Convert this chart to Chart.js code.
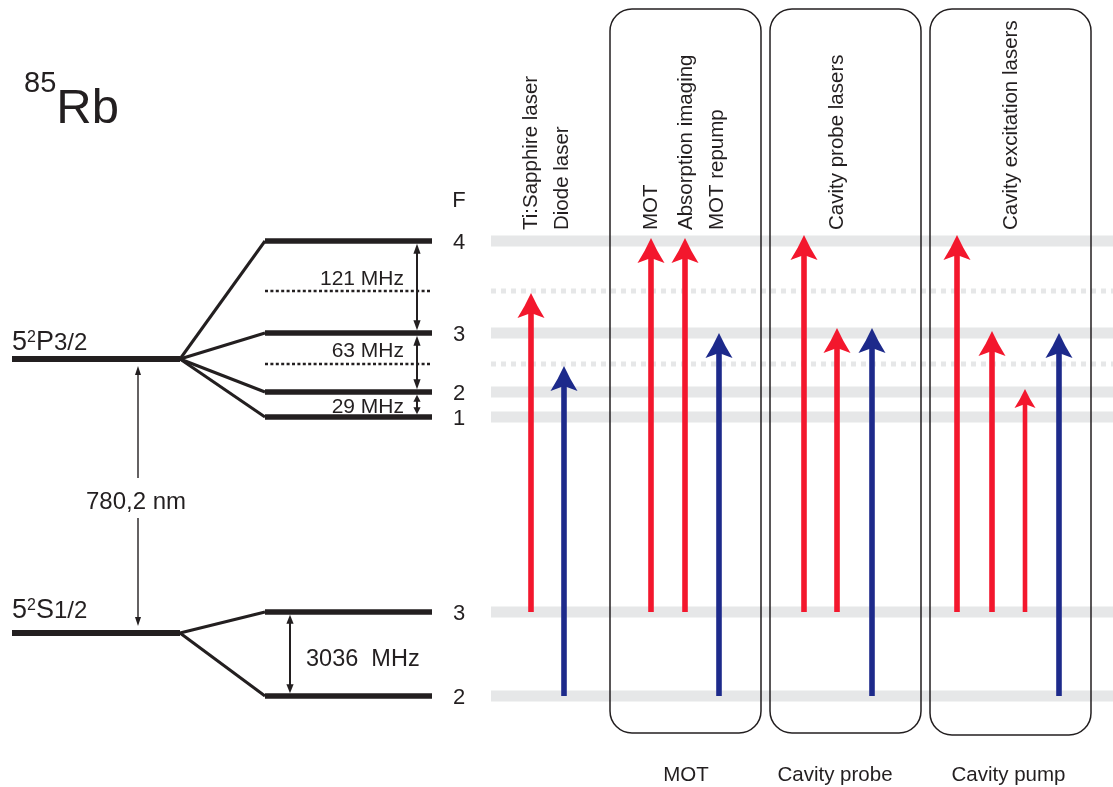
<!DOCTYPE html>
<html>
<head>
<meta charset="utf-8">
<script src="https://cdn.jsdelivr.net/npm/chart.js@4/dist/chart.umd.min.js"></script>
<style>
  html, body { margin: 0; padding: 0; background: #ffffff; }
  canvas { display: block; }
</style>
</head>
<body>
<canvas id="diagram" width="1113" height="787"></canvas>
<script>
// 85Rb D2 line: hyperfine levels and the lasers that address them.
// Vertical values are an energy-like diagram coordinate (0 = bottom, 787 = top),
// horizontal values run across the figure (0 .. 1113).

// ---- level data ----
const excitedFine = 428;                 // 5²P3/2
const groundFine = 154;                  // 5²S1/2
const excitedF = ['4', '3', '2', '1'];
const excitedLevels = [546, 454, 395, 370];
const crossoverLevels = [496, 423];      // dotted crossover positions
const groundF = ['3', '2'];
const groundLevels = [175, 91];
const excitedSplittings = ['121 MHz', '63 MHz', '29 MHz'];
const groundSplitting = '3036  MHz';
const transitionLabel = '780,2 nm';

// ---- laser data ----
const laserNames = ['Ti:Sapphire laser', 'Diode laser', 'MOT', 'Absorption imaging',
                    'MOT repump', 'Cavity probe lasers', 'Cavity excitation lasers'];
const laserNameX = [537, 568, 656.5, 692, 723, 843, 1016.5];
const arrowX    = [531, 564, 651, 685, 719, 804, 837, 872, 957, 992, 1025, 1059];
const arrowFrom = [175, 91, 175, 175, 91, 175, 175, 91, 175, 175, 175, 91];
const arrowTo   = [494, 421, 549, 549, 454, 552, 459, 459, 552, 456, 398, 454];
const arrowKind = ['red', 'blue', 'red', 'red', 'blue', 'red', 'red', 'blue', 'red', 'red', 'red', 'blue'];

// ---- groups ----
const groupNames = ['MOT', 'Cavity probe', 'Cavity pump'];
const groupLeft  = [610, 770, 930];
const groupRight = [761, 921, 1091];
const groupNameX = [686, 835, 1008.5];

// ---- layout ----
const INK = '#231f20';
const BAND = '#e6e7e8';
const COLORS = { red: '#f3172d', blue: '#1d2a8b' };
const FONT = '"Liberation Sans", Arial, Helvetica, sans-serif';
const fineX = [12, 180];
const hyperfineX = [265, 432];
const bandX = [491, 1113];
const fLabelX = 459;

function seg(x1, y1, x2, y2, opts) {
  return Object.assign({
    data: [{ x: x1, y: y1 }, { x: x2, y: y2 }],
    showLine: true, pointRadius: 0, pointHoverRadius: 0,
    borderCapStyle: 'butt', clip: false, fill: false, tension: 0
  }, opts);
}

const datasets = [];
// grey bands across the laser panel
excitedLevels.concat(groundLevels).forEach(v => {
  datasets.push(seg(bandX[0], v, bandX[1], v, { borderColor: BAND, borderWidth: 11, order: 5 }));
});
crossoverLevels.forEach(v => {
  datasets.push(seg(bandX[0], v, bandX[1], v, { borderColor: BAND, borderWidth: 5, borderDash: [5, 5], order: 5 }));
});
// fine-structure levels
[excitedFine, groundFine].forEach(v => {
  datasets.push(seg(fineX[0], v, fineX[1], v, { borderColor: INK, borderWidth: 6, order: 2 }));
});
// hyperfine levels
excitedLevels.concat(groundLevels).forEach(v => {
  datasets.push(seg(hyperfineX[0], v, hyperfineX[1], v, { borderColor: INK, borderWidth: 5.5, order: 2 }));
});
crossoverLevels.forEach(v => {
  datasets.push(seg(hyperfineX[0], v, hyperfineX[1], v, { borderColor: INK, borderWidth: 2.6, borderDash: [3, 2.4], order: 2 }));
});
// splitting fans
excitedLevels.forEach(v => {
  datasets.push(seg(fineX[1], excitedFine, hyperfineX[0], v, { borderColor: INK, borderWidth: 3, order: 3 }));
});
groundLevels.forEach(v => {
  datasets.push(seg(fineX[1], groundFine, hyperfineX[0], v, { borderColor: INK, borderWidth: 3, order: 3 }));
});

function doubleArrow(ctx, x, yTop, yBot, lw, hl, hw) {
  ctx.save();
  ctx.strokeStyle = INK; ctx.fillStyle = INK; ctx.lineWidth = lw; ctx.lineCap = 'butt';
  ctx.beginPath(); ctx.moveTo(x, yTop + hl - 1); ctx.lineTo(x, yBot - hl + 1); ctx.stroke();
  ctx.beginPath(); ctx.moveTo(x, yTop); ctx.lineTo(x + hw, yTop + hl); ctx.lineTo(x - hw, yTop + hl); ctx.closePath(); ctx.fill();
  ctx.beginPath(); ctx.moveTo(x, yBot); ctx.lineTo(x + hw, yBot - hl); ctx.lineTo(x - hw, yBot - hl); ctx.closePath(); ctx.fill();
  ctx.restore();
}

function laserArrow(ctx, x, yBase, yTip, color, sw, hl, hw, notch) {
  ctx.save();
  ctx.strokeStyle = color; ctx.fillStyle = color; ctx.lineWidth = sw; ctx.lineCap = 'butt';
  ctx.beginPath(); ctx.moveTo(x, yBase); ctx.lineTo(x, yTip + hl - notch - 1); ctx.stroke();
  ctx.beginPath();
  ctx.moveTo(x, yTip);
  ctx.quadraticCurveTo(x + hw * 0.42, yTip + hl * 0.5, x + hw, yTip + hl);
  ctx.lineTo(x, yTip + hl - notch);
  ctx.lineTo(x - hw, yTip + hl);
  ctx.quadraticCurveTo(x - hw * 0.42, yTip + hl * 0.5, x, yTip);
  ctx.closePath(); ctx.fill();
  ctx.restore();
}

function roundBox(ctx, l, t, r, b, rad) {
  ctx.beginPath();
  ctx.moveTo(l + rad, t);
  ctx.lineTo(r - rad, t); ctx.arcTo(r, t, r, t + rad, rad);
  ctx.lineTo(r, b - rad); ctx.arcTo(r, b, r - rad, b, rad);
  ctx.lineTo(l + rad, b); ctx.arcTo(l, b, l, b - rad, rad);
  ctx.lineTo(l, t + rad); ctx.arcTo(l, t, l + rad, t, rad);
  ctx.closePath();
}

function runs(ctx, x, y, parts) {
  // parts: [text, size, dy]
  let cx = x;
  parts.forEach(([t, size, dy]) => {
    ctx.font = size + 'px ' + FONT;
    ctx.fillText(t, cx, y + dy);
    cx += ctx.measureText(t).width;
  });
}

const diagramPlugin = {
  id: 'levelDiagram',
  afterDatasetsDraw(chart) {
    const ctx = chart.ctx;
    const X = v => chart.scales.x.getPixelForValue(v);
    const Y = v => chart.scales.y.getPixelForValue(v);
    ctx.save();

    // group frames
    ctx.strokeStyle = INK; ctx.lineWidth = 1.5;
    groupNames.forEach((n, i) => {
      roundBox(ctx, X(groupLeft[i]), Y(778), X(groupRight[i]), Y(i === 2 ? 52 : 54), 22);
      ctx.stroke();
    });

    // laser arrows
    arrowX.forEach((x, i) => {
      const thin = i === 10;
      laserArrow(ctx, X(x), Y(arrowFrom[i]), Y(arrowTo[i]), COLORS[arrowKind[i]],
                 thin ? 4.6 : 5.6, thin ? 19 : 25, thin ? 10.5 : 13.5, thin ? 4 : 5);
    });

    // splitting arrows
    const half = 2.8;
    doubleArrow(ctx, X(417), Y(excitedLevels[0]) + half, Y(excitedLevels[1]) - half, 2, 10, 3.6);
    doubleArrow(ctx, X(417), Y(excitedLevels[1]) + half, Y(excitedLevels[2]) - half, 2, 10, 3.6);
    doubleArrow(ctx, X(417), Y(excitedLevels[2]) + half, Y(excitedLevels[3]) - half, 2, 7, 3.6);
    doubleArrow(ctx, X(290), Y(groundLevels[0]) + half, Y(groundLevels[1]) - half, 2, 9, 3.6);
    doubleArrow(ctx, X(138), Y(excitedFine) + 7, Y(groundFine) - 7, 1.4, 9, 3);

    ctx.fillStyle = INK;
    ctx.textBaseline = 'alphabetic';

    // 780,2 nm label on a white patch
    ctx.font = '24px ' + FONT;
    const wl = ctx.measureText(transitionLabel).width;
    const midY = (Y(excitedFine) + Y(groundFine)) / 2;
    ctx.fillStyle = '#ffffff';
    ctx.fillRect(X(138) - wl / 2 - 2, midY - 18, wl + 4, 40);
    ctx.fillStyle = INK;
    ctx.textAlign = 'center';
    ctx.fillText(transitionLabel, X(136), midY + 13);

    // splitting labels
    ctx.textAlign = 'right';
    ctx.font = '21px ' + FONT;
    ctx.fillText(excitedSplittings[0], X(404), Y(excitedLevels[0]) + 44);
    ctx.fillText(excitedSplittings[1], X(404), Y(excitedLevels[1]) + 24);
    ctx.fillText(excitedSplittings[2], X(404), Y(excitedLevels[2]) + 21);
    ctx.textAlign = 'left';
    ctx.font = '23.5px ' + FONT;
    ctx.fillText(groundSplitting, X(306), Y(groundLevels[0]) + 54);

    // F labels
    ctx.textAlign = 'center';
    ctx.font = '22px ' + FONT;
    ctx.fillText('F', X(fLabelX), Y(580));
    excitedF.forEach((f, i) => ctx.fillText(f, X(fLabelX), Y(excitedLevels[i]) + 8));
    groundF.forEach((f, i) => ctx.fillText(f, X(fLabelX), Y(groundLevels[i]) + 8));

    // fine-structure term labels
    ctx.textAlign = 'left';
    runs(ctx, X(12), Y(excitedFine) - 9, [['5', 27, 0], ['2', 16, -8], ['P', 27, 0], ['3/2', 24, 0]]);
    runs(ctx, X(12), Y(groundFine) - 15, [['5', 27, 0], ['2', 16, -8], ['S', 27, 0], ['1/2', 24, 0]]);

    // isotope
    runs(ctx, X(24), Y(695), [['85', 29, 0], ['Rb', 49, 31]]);

    // laser names, rotated
    ctx.font = '20.5px ' + FONT;
    laserNames.forEach((n, i) => {
      ctx.save();
      ctx.translate(X(laserNameX[i]), Y(557));
      ctx.rotate(-Math.PI / 2);
      ctx.textAlign = 'left';
      ctx.fillText(n, 0, 0);
      ctx.restore();
    });

    // group names
    ctx.textAlign = 'center';
    ctx.font = '20.5px ' + FONT;
    groupNames.forEach((n, i) => {
      ctx.fillText(n, X(groupNameX[i]), Y(6));
    });

    ctx.restore();
  }
};

new Chart(document.getElementById('diagram'), {
  type: 'scatter',
  data: { datasets },
  options: {
    responsive: false,
    animation: false,
    events: [],
    layout: { padding: 0 },
    plugins: { legend: { display: false }, tooltip: { enabled: false } },
    scales: {
      x: { type: 'linear', min: 0, max: 1113, display: false },
      y: { type: 'linear', min: 0, max: 787, display: false }
    }
  },
  plugins: [diagramPlugin]
});
</script>
</body>
</html>
